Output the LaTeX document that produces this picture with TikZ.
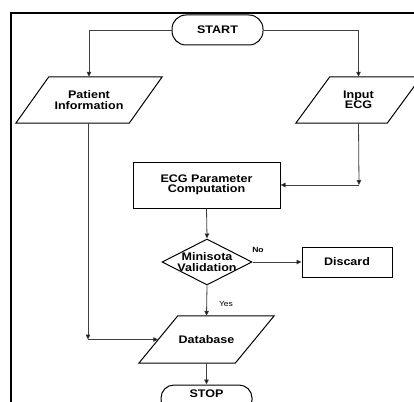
\documentclass[tikz,border=0pt]{standalone}
\usepackage{fontspec}
\setmainfont{Liberation Sans}[FakeStretch=1.14]
\usetikzlibrary{shapes.geometric,arrows.meta}
\begin{document}
\begin{tikzpicture}[x=1pt,y=-1pt,
  every node/.style={font=\fontsize{11}{10.5}\selectfont\bfseries, align=center, inner sep=1pt},
  shapeline/.style={draw=black, line width=1pt},
  termbox/.style={shapeline, rectangle, rounded corners=14pt, minimum width=91pt, minimum height=30pt},
  procbox/.style={shapeline, rectangle},
  iotext/.style={rectangle, inner sep=0pt},
  decbox/.style={shapeline, diamond, minimum width=90pt, minimum height=46pt, inner sep=0pt, aspect=2},
  arr/.style={draw=black!75, line width=0.8pt, -{Triangle[length=5pt,width=4.5pt,fill=black]}},
  small/.style={font=\fontsize{7.5}{8}\selectfont, inner sep=0pt},
  framebar/.style={draw=black, line width=2.2pt}
]
\useasboundingbox (0,0) rectangle (414,401);
\clip (0,0) rectangle (414,401);
\fill[white] (0,0) rectangle (414,401);
\draw[framebar] (11,420) -- (11,13) -- (430,13);

\node[termbox] (start) at (217.5,30) {START};
\node[iotext, minimum width=113pt, minimum height=46pt] (patient) at (89,100) {Patient\\Information};
\node[iotext, minimum width=91pt, minimum height=46pt] (input) at (358.5,100) {Input\\ECG};
\node[procbox, minimum width=147pt, minimum height=46pt] (ecg) at (206.5,185) {ECG Parameter\\Computation};
\node[decbox] (dec) at (207,262) {};
\node (dectext) at (207,262) {Minisota\\Validation};
\node[procbox, minimum width=90pt, minimum height=30pt] (discard) at (347,262) {Discard};
\node[iotext, minimum width=96pt, minimum height=47pt] (db) at (206.5,339.5) {Database};
\node[shapeline, rectangle, rounded corners=13pt, minimum width=91pt, minimum height=28pt] (stop) at (206.5,399) {};
\node (stoptext) at (206.5,394) {STOP};

% parallelogram outlines around the io nodes
\draw[shapeline] ([xshift=-16.5pt]patient.south west) -- ([xshift=16.5pt]patient.north west) -- ([xshift=16.5pt]patient.north east) -- ([xshift=-16.5pt]patient.south east) -- cycle;
\draw[shapeline] ([xshift=-17pt]input.south west) -- ([xshift=17pt]input.north west) -- ([xshift=17pt]input.north east) -- ([xshift=-17pt]input.south east) -- cycle;
\draw[shapeline] ([xshift=-19.5pt]db.south west) -- ([xshift=19.5pt]db.north west) -- ([xshift=19.5pt]db.north east) -- ([xshift=-19.5pt]db.south east) -- cycle;

\coordinate (c1) at (88,339.5);
\coordinate (c2) at (359,185);

\draw[arr] (start.west) -| (patient.north);
\draw[arr] (start.east) -| (input.north);
\draw[arr] (input.south) -- (c2);
\draw[arr] (c2) -- (ecg.east);
\draw[arr] (patient.south -| c1) -- (c1);
\draw[arr] (c1) -- (db.west);
\draw[arr] (ecg.south) -- (dec.north);
\draw[arr] (dec.east) -- (discard.west);
\draw[arr] (dec.south) -- (db.north);
\draw[arr] (db.south) -- (stop.north);

\node[small, font=\fontsize{7.5}{8}\selectfont\bfseries] (nolabel) at (258,250) {No};
\node[small] (yeslabel) at (226,304) {Yes};
\end{tikzpicture}
\end{document}
